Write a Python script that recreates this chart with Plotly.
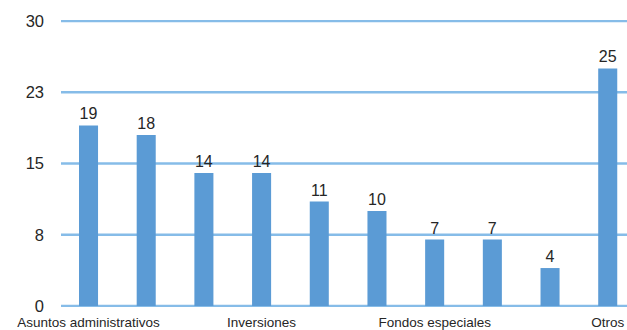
import plotly.graph_objects as go

# Counts per category (labels above bars)
positions = list(range(10))
values = [19, 18, 14, 14, 11, 10, 7, 7, 4, 25]

# Only every third category carries a visible label on the x axis
tick_positions = [0, 3, 6, 9]
tick_labels = ["Asuntos administrativos", "Inversiones", "Fondos especiales", "Otros"]

# Y axis: quarter steps of 30, shown rounded
y_ticks = [0, 7.5, 15, 22.5, 30]
y_tick_labels = ["0", "8", "15", "23", "30"]

BAR = "#5B9BD5"
GRID = "#86BCE8"
TEXT = "#262626"
FONT = "Liberation Sans, Arial, sans-serif"

fig = go.Figure(
    go.Bar(
        x=positions,
        y=values,
        width=0.33,
        marker=dict(color=BAR, line=dict(width=0)),
        text=[str(v) for v in values],
        textposition="outside",
        textfont=dict(family=FONT, size=16, color=TEXT),
        cliponaxis=False,
    )
)

# Horizontal grid lines at every y tick, including the 0 and 30 edges
for yv in y_ticks:
    fig.add_shape(
        type="line", xref="paper", x0=0, x1=1, yref="y", y0=yv, y1=yv,
        line=dict(color=GRID, width=2.5), layer="below",
    )

fig.update_layout(
    width=627,
    height=330,
    margin=dict(l=61, r=0, t=20, b=23, autoexpand=False),
    paper_bgcolor="white",
    plot_bgcolor="white",
    showlegend=False,
    font=dict(family=FONT, color=TEXT),
    xaxis=dict(
        range=[-0.477, 9.334],
        tickmode="array",
        tickvals=tick_positions,
        ticktext=tick_labels,
        tickfont=dict(size=13.5, color=TEXT),
        showgrid=False,
        zeroline=False,
        showline=False,
        ticks="",
        ticklabelstandoff=5,
        automargin=False,
    ),
    yaxis=dict(
        range=[-0.1, 30.1],
        tickmode="array",
        tickvals=y_ticks,
        ticktext=y_tick_labels,
        tickfont=dict(size=16.5, color=TEXT),
        showgrid=False,
        zeroline=False,
        showline=False,
        ticks="",
        ticklabelstandoff=16,
        automargin=False,
    ),
)

fig.write_html("out.html")
